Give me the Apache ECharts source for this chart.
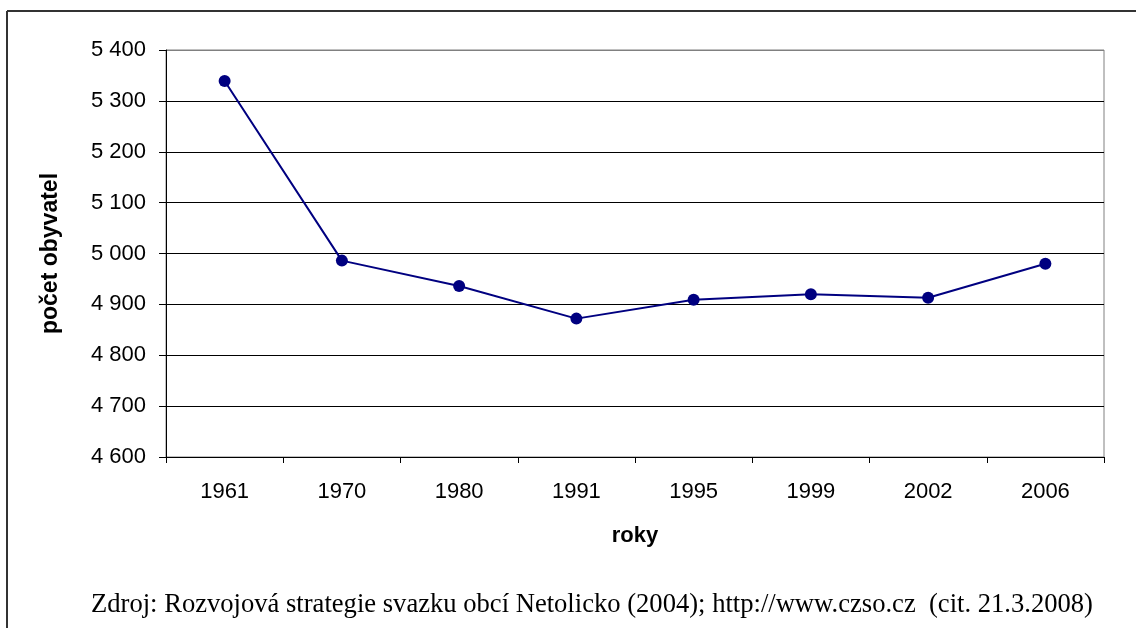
<!DOCTYPE html>
<html>
<head>
<meta charset="utf-8">
<script src="https://cdn.jsdelivr.net/npm/echarts@6/dist/echarts.min.js"></script>
<style>
  html, body { margin: 0; padding: 0; background: #fff; }
  #main { width: 1136px; height: 628px; }
</style>
</head>
<body>
<div id="main"></div>
<script>
// roky a počet obyvatel
var years = ['1961', '1970', '1980', '1991', '1995', '1999', '2002', '2006'];
var population = [5339, 4986, 4936, 4872, 4909, 4920, 4913, 4980];

var yMin = 4600, yMax = 5400, yStep = 100;

function formatThousands(v) {
    return String(v).replace(/\B(?=(\d{3})+(?!\d))/g, ' ');
}

function buildChart() {
    var myChart = echarts.init(document.getElementById('main'));

    var option = {
        backgroundColor: '#fff',
        animation: false,
        grid: {
            left: 166,
            right: 32,
            top: 50,
            bottom: 171,
            show: true,
            borderColor: '#808080',
            borderWidth: 1,
            backgroundColor: 'transparent'
        },
        xAxis: {
            type: 'category',
            data: years,
            boundaryGap: true,
            name: 'roky',
            nameLocation: 'middle',
            nameGap: 68,
            nameTextStyle: { fontFamily: 'Liberation Sans', fontSize: 22, fontWeight: 'bold', color: '#000' },
            axisLine: { lineStyle: { color: '#000', width: 1 } },
            axisTick: { show: true, alignWithLabel: false, length: 6, lineStyle: { color: '#000' } },
            axisLabel: { fontFamily: 'Liberation Sans', fontSize: 22, color: '#000', margin: 24 },
            splitLine: { show: false }
        },
        yAxis: {
            type: 'value',
            min: yMin,
            max: yMax,
            interval: yStep,
            name: 'počet obyvatel',
            nameLocation: 'middle',
            nameGap: 104,
            nameRotate: 90,
            nameTextStyle: { fontFamily: 'Liberation Sans', fontSize: 23, fontWeight: 'bold', color: '#000' },
            axisLine: { show: true, lineStyle: { color: '#000', width: 1 } },
            axisTick: { show: true, length: 7, lineStyle: { color: '#000' } },
            axisLabel: {
                fontFamily: 'Liberation Sans', fontSize: 22, color: '#000', margin: 20,
                formatter: formatThousands
            },
            splitLine: {
                show: true,
                lineStyle: { color: ['#000', '#000', '#000', '#000', '#000', '#000', '#000', '#000', '#808080'], width: 1 }
            }
        },
        graphic: [
            { type: 'line', shape: { x1: 7, y1: 11, x2: 1136, y2: 11 }, style: { stroke: '#333', lineWidth: 2 } },
            { type: 'line', shape: { x1: 7, y1: 11, x2: 7, y2: 628 }, style: { stroke: '#333', lineWidth: 2 } },
            {
                type: 'text', x: 592, y: 605,
                style: {
                    text: 'Zdroj: Rozvojová strategie svazku obcí Netolicko (2004); http://www.czso.cz  (cit. 21.3.2008)',
                    fontFamily: 'Liberation Serif', fontSize: 26.6, fill: '#000',
                    align: 'center', verticalAlign: 'middle'
                }
            }
        ],
        series: [
            {
                name: 'počet obyvatel',
                type: 'line',
                data: population,
                symbol: 'circle',
                symbolSize: 12,
                itemStyle: { color: '#000080' },
                lineStyle: { color: '#000080', width: 2 }
            }
        ]
    };

    myChart.setOption(option);
}

buildChart();
</script>
</body>
</html>
